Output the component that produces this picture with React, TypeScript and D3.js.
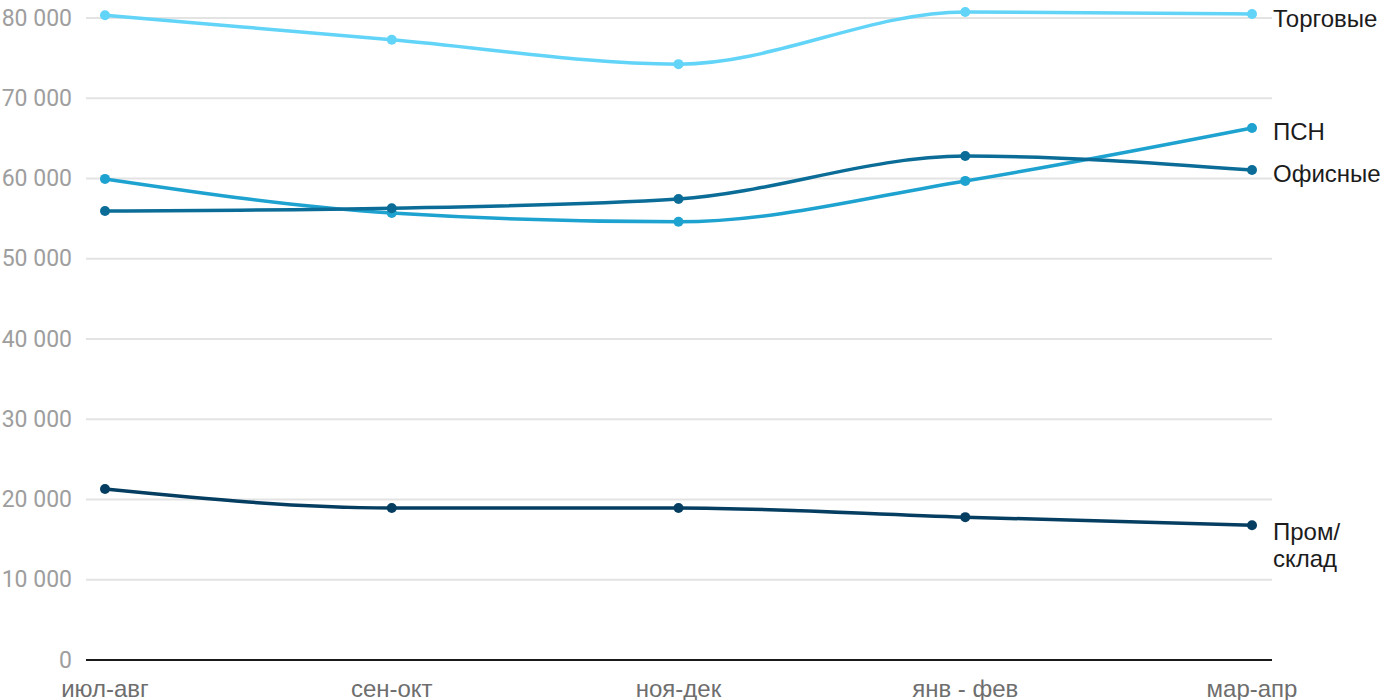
import React from "react";
import * as d3 from "d3";

const categories = ["июл-авг", "сен-окт", "ноя-дек", "янв - фев", "мар-апр"];
const yTicks = [0, 10000, 20000, 30000, 40000, 50000, 60000, 70000, 80000];

const torgovye = [80350, 77300, 74250, 80750, 80500];
const psn = [59950, 55700, 54600, 59700, 66300];
const ofisnye = [55950, 56300, 57450, 62800, 61050];
const promsklad = [21300, 18950, 18950, 17800, 16800];

const seriesNames = [["Торговые"], ["ПСН"], ["Офисные"], ["Пром/", "склад"]];
const seriesColors = ["#62d4f8", "#1ea2cf", "#0b6d97", "#053e61"];
const seriesValues = [torgovye, psn, ofisnye, promsklad];
const labelY = [18, 131, 173, 531];

export default function App() {
  const W = 1400, H = 700;
  const x = d3.scalePoint<string>().domain(categories).range([105, 1252]);
  const y = d3.scaleLinear().domain([0, 80000]).range([660, 18]);
  const line = d3
    .line<number>()
    .x((_, i) => x(categories[i]) as number)
    .y((d) => y(d))
    .curve(d3.curveMonotoneX);
  const fmt = (v: number) => d3.format(",")(v).replace(/,/g, " ");
  const font = "Roboto, 'Noto Sans', sans-serif";
  const font2 = "'Liberation Sans', Arial, sans-serif";

  return (
    <svg width={W} height={H} style={{ position: "absolute", left: 0, top: 0 }} fontFamily={font}>
      {yTicks.map((t) => (
        <g key={t}>
          {t !== 0 && (
            <line x1={86} x2={1272} y1={y(t)} y2={y(t)} stroke="#e3e3e3" strokeWidth={2} />
          )}
          <text x={72} y={y(t)} textAnchor="end" dominantBaseline="central" fontSize={23} fill="#9e9e9e">
            {fmt(t)}
          </text>
        </g>
      ))}
      <line x1={86} x2={1272} y1={y(0)} y2={y(0)} stroke="#1a1a1a" strokeWidth={2} />
      {categories.map((c) => (
        <text key={c} x={x(c)} y={688} textAnchor="middle" dominantBaseline="central" fontSize={24} fill="#6e6e6e" fontFamily={font2}>
          {c}
        </text>
      ))}
      {seriesValues.map((vals, si) => (
        <g key={si}>
          <path d={line(vals) || ""} fill="none" stroke={seriesColors[si]} strokeWidth={3.5} />
          {vals.map((v, i) => (
            <circle key={i} cx={x(categories[i])} cy={y(v)} r={5} fill={seriesColors[si]} />
          ))}
          <text x={1273} y={labelY[si]} fontSize={24} fill="#1c1c1c" dominantBaseline="central" fontFamily={font2}>
            {seriesNames[si].map((s, k) => (
              <tspan key={k} x={1273} dy={k === 0 ? 0 : 27}>
                {s}
              </tspan>
            ))}
          </text>
        </g>
      ))}
    </svg>
  );
}
